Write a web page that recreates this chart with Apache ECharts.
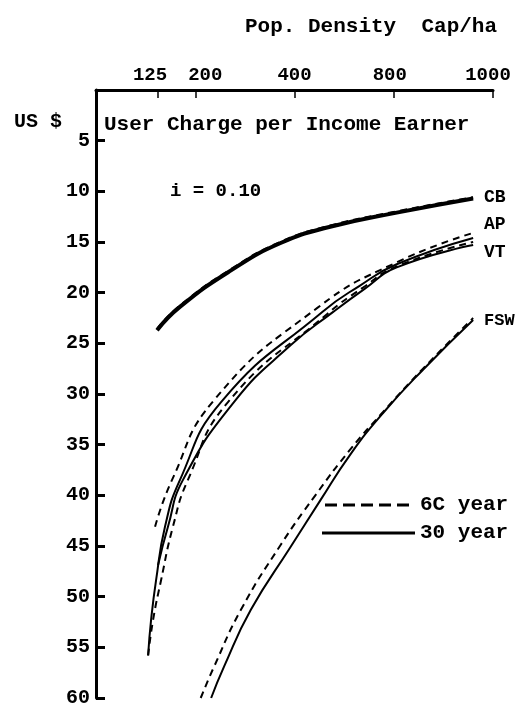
<!DOCTYPE html>
<html><head><meta charset="utf-8">
<script src="https://cdn.jsdelivr.net/npm/echarts@6/dist/echarts.min.js"></script>
<style>html,body{margin:0;padding:0;background:#fff}#c{width:527px;height:709px}</style>
</head><body><div id="c"></div>
<script>
// Density tick labels (Cap/ha) and their positions on the hand-drawn top axis
const xTickLabels = [125, 200, 400, 800, 1000];
const xTickPos = [0.625, 1, 2, 3, 4];
// y: user charge per income earner (US $), inverted axis
const yMin = 0, yMax = 60, yStep = 5;

// [density, US $]
const CB60 = [[123,23.6],[169,21.3],[272,17.7],[372,15.0],[544,13.4],[806,12.0],[960,10.6]];
const CB30 = [[123,23.7],[169,21.4],[272,17.8],[372,15.1],[544,13.5],[806,12.1],[960,10.7]];
const AP60 = [[119,43.1],[153,38.5],[238,30.6],[492,21.5],[806,17.0],[960,14.1]];
const AP30 = [[105,55.8],[111,52.3],[121,48.4],[139,43.1],[169,38.5],[252,30.8],[512,21.9],[664,19.3],[806,17.2],[960,14.6]];
const VT60 = [[105,55.8],[115,52.3],[131,48.4],[155,43.1],[185,38.5],[266,30.8],[532,22.1],[676,19.5],[806,17.4],[960,15.0]];
const VT30 = [[125,46.9],[145,43.1],[175,38.5],[278,30.8],[392,25.2],[556,21.9],[684,19.6],[806,17.5],[960,15.3]];
const FSW60 = [[211,60],[238,56.9],[292,51.3],[372,44.9],[484,40.0],[624,35.5],[756,31.8],[859,27.5],[960,22.5]];
const FSW30 = [[232,60],[258,56.9],[312,51.3],[392,45.1],[504,40.5],[624,36.0],[756,31.9],[859,27.6],[960,22.7]];

// piecewise axis transform: density -> axis position
function toAxis(d){
  let i = 0;
  while (i < xTickLabels.length - 2 && d > xTickLabels[i+1]) i++;
  const d0 = xTickLabels[i], d1 = xTickLabels[i+1], p0 = xTickPos[i], p1 = xTickPos[i+1];
  return p0 + (d - d0) * (p1 - p0) / (d1 - d0);
}
const conv = arr => arr.map(([d, v]) => [toAxis(d), v]);

const FONT = '"Liberation Mono", "DejaVu Sans Mono", monospace';
const chart = echarts.init(document.getElementById('c'), null, {renderer: 'canvas'});

function line(name, data, dashed, width){
  return {
    name, type: 'line', data: conv(data), smooth: 0.5, symbol: 'none',
    lineStyle: {color: '#000', width: width, type: dashed ? [7, 5] : 'solid'},
    z: dashed ? 3 : 4, silent: true
  };
}
const labelStyles = ['l125', 'l200', 'l400', 'l800', 'l1000'];

chart.setOption({
  animation: false,
  backgroundColor: '#fff',
  grid: {left: 96, right: 34, top: 90, bottom: 11},
  xAxis: {
    type: 'value', position: 'top', min: 0, max: 4,
    splitLine: {show: false},
    axisLine: {lineStyle: {color: '#000', width: 3}},
    axisTick: {inside: true, length: 8, customValues: xTickPos, lineStyle: {color: '#000', width: 1.5}},
    axisLabel: {
      customValues: xTickPos, margin: 5, color: '#000',
      fontFamily: FONT, fontWeight: 'bold', fontSize: 19,
      formatter: v => { const i = xTickPos.findIndex(p => Math.abs(p - v) < 1e-6); return i >= 0 ? '{' + labelStyles[i] + '|' + xTickLabels[i] + '}' : ''; },
      rich: {
        l125: {fontFamily: FONT, fontWeight: 'bold', fontSize: 19, padding: [0, 16, 0, 0]},
        l200: {fontFamily: FONT, fontWeight: 'bold', fontSize: 19, padding: [0, 0, 0, 20]},
        l400: {fontFamily: FONT, fontWeight: 'bold', fontSize: 19},
        l800: {fontFamily: FONT, fontWeight: 'bold', fontSize: 19, padding: [0, 8, 0, 0]},
        l1000: {fontFamily: FONT, fontWeight: 'bold', fontSize: 19, padding: [0, 10, 0, 0]}
      }
    }
  },
  yAxis: {
    type: 'value', inverse: true, min: yMin, max: yMax, interval: yStep,
    splitLine: {show: false},
    axisLine: {lineStyle: {color: '#000', width: 3}},
    axisTick: {inside: true, length: 9, lineStyle: {color: '#000', width: 3}},
    axisLabel: {
      showMinLabel: false, margin: 6, color: '#000',
      fontFamily: FONT, fontSize: 20, fontWeight: 'bold',
      formatter: v => v === 0 ? '' : String(v)
    }
  },
  series: [
    line('CB 60 year', CB60, true, 2.5),
    line('CB 30 year', CB30, false, 4),
    line('AP 60 year', AP60, true, 2),
    line('AP 30 year', AP30, false, 2),
    line('VT 60 year', VT60, true, 2),
    line('VT 30 year', VT30, false, 2),
    line('FSW 60 year', FSW60, true, 2),
    line('FSW 30 year', FSW30, false, 2)
  ],
  graphic: [
    {type: 'text', left: 245, top: 16, style: {text: 'Pop. Density  Cap/ha', font: 'bold 21px ' + FONT, fill: '#000'}},
    {type: 'text', left: 14, top: 112, style: {text: 'US $', font: 'bold 20px ' + FONT, fill: '#000'}},
    {type: 'text', left: 104, top: 114, style: {text: 'User Charge per Income Earner', font: 'bold 21px ' + FONT, fill: '#000'}},
    {type: 'text', left: 170, top: 182, style: {text: 'i = 0.10', font: 'bold 19px ' + FONT, fill: '#000'}},
    {type: 'text', left: 484, top: 188, style: {text: 'CB', font: 'bold 18px ' + FONT, fill: '#000'}},
    {type: 'text', left: 484, top: 215, style: {text: 'AP', font: 'bold 18px ' + FONT, fill: '#000'}},
    {type: 'text', left: 484, top: 243, style: {text: 'VT', font: 'bold 18px ' + FONT, fill: '#000'}},
    {type: 'text', left: 484, top: 312, style: {text: 'FSW', font: 'bold 17px ' + FONT, fill: '#000'}},
    {type: 'line', shape: {x1: 325, y1: 505, x2: 415, y2: 505}, style: {stroke: '#000', lineWidth: 3, lineDash: [12, 6]}},
    {type: 'text', left: 420, top: 494, style: {text: '6C year', font: 'bold 21px ' + FONT, fill: '#000'}},
    {type: 'line', shape: {x1: 322, y1: 533, x2: 415, y2: 533}, style: {stroke: '#000', lineWidth: 3}},
    {type: 'text', left: 420, top: 522, style: {text: '30 year', font: 'bold 21px ' + FONT, fill: '#000'}}
  ]
});
</script></body></html>
